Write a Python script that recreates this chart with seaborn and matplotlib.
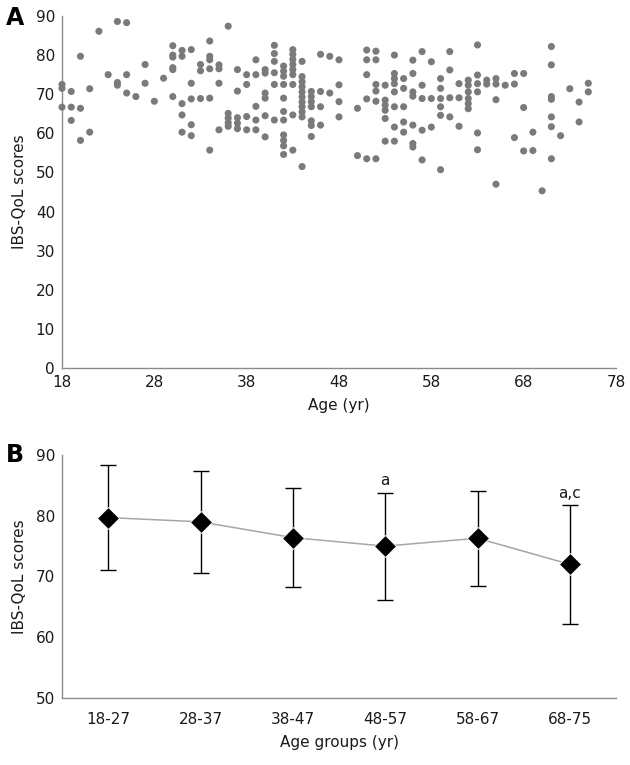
import numpy as np
import pandas as pd
import matplotlib
matplotlib.use("Agg")
import matplotlib.pyplot as plt
import seaborn as sns

# ---------------- Panel A: individual scores ----------------
ages = [18, 18, 18, 19, 19, 19, 20, 20, 20, 21, 21, 22, 23, 24, 24, 24, 25, 25, 25, 26,
        27, 27, 28, 29,
        30, 30, 30, 30, 30, 30,
        31, 31, 31, 31, 31,
        32, 32, 32, 32, 32,
        33, 33, 33,
        34, 34, 34, 34, 34, 34,
        35, 35, 35, 35,
        36, 36, 36, 36, 36,
        37, 37, 37, 37, 37,
        38, 38, 38, 38,
        39, 39, 39, 39, 39,
        40, 40, 40, 40, 40, 40,
        41, 41, 41, 41, 41, 41,
        42, 42, 42, 42, 42, 42, 42, 42, 42, 42, 42,
        43, 43, 43, 43, 43, 43, 43, 43, 43,
        44, 44, 44, 44, 44, 44, 44, 44, 44, 44, 44,
        45, 45, 45, 45, 45, 45, 45,
        46, 46, 46, 46,
        47, 47,
        48, 48, 48, 48,
        50, 50,
        51, 51, 51, 51, 51,
        52, 52, 52, 52, 52, 52,
        53, 53, 53, 53, 53, 53,
        54, 54, 54, 54, 54, 54, 54, 54,
        55, 55, 55, 55, 55,
        56, 56, 56, 56, 56, 56, 56,
        57, 57, 57, 57, 57,
        58, 58, 58,
        59, 59, 59, 59, 59, 59,
        60, 60, 60, 60,
        61, 61, 61,
        62, 62, 62, 62, 62, 62,
        63, 63, 63, 63, 63, 63,
        64, 64,
        65, 65, 65, 65,
        66,
        67, 67, 67,
        68, 68, 68,
        69, 69,
        70,
        71, 71, 71, 71, 71, 71, 71,
        72, 73, 74, 74, 75, 75]

scores = [72.5, 71.5, 66.7, 70.7, 66.7, 63.3, 79.7, 66.4, 58.2, 71.4, 60.3, 86.1, 75.0,
          88.6, 73.0, 72.3, 88.3, 75.0, 70.3, 69.4,
          77.6, 72.8, 68.2, 74.1,
          82.4, 80.0, 79.5, 76.8, 76.3, 69.4,
          81.2, 79.7, 67.6, 64.7, 60.3,
          81.4, 72.8, 68.8, 62.2, 59.4,
          77.6, 76.0, 68.9,
          83.6, 79.7, 78.8, 76.5, 69.0, 55.7,
          77.5, 76.5, 72.8, 60.9,
          87.4, 65.1, 63.9, 62.7, 61.8,
          76.3, 70.8, 64.0, 62.6, 61.2,
          75.0, 72.5, 64.3, 60.9,
          78.8, 75.0, 66.9, 63.4, 60.9,
          76.3, 75.4, 70.3, 69.0, 64.5, 59.1,
          82.5, 80.4, 78.4, 75.5, 72.5, 63.4,
          77.2, 75.9, 74.6, 72.5, 69.0, 65.6, 63.4, 59.6, 58.2, 56.8, 54.6,
          81.4, 80.2, 78.9, 77.6, 76.3, 75.0, 72.5, 64.7, 55.7,
          78.4, 74.5, 73.2, 71.9, 70.6, 69.3, 68.0, 66.8, 65.5, 64.2, 51.5,
          70.7, 69.4, 68.1, 66.8, 63.2, 62.0, 59.2,
          80.2, 70.7, 66.8, 62.1,
          79.7, 70.3,
          78.8, 72.4, 68.1, 64.2,
          66.4, 54.3,
          81.3, 78.8, 75.0, 68.8, 53.5,
          81.0, 78.8, 72.5, 70.8, 68.2, 53.5,
          72.3, 68.5, 67.2, 65.9, 63.8, 58.0,
          80.0, 75.3, 74.0, 72.7, 70.6, 66.8, 61.6, 58.0,
          74.0, 71.5, 66.8, 62.9, 60.3,
          78.7, 75.3, 70.6, 69.5, 62.1, 57.4, 56.5,
          80.9, 72.3, 68.9, 60.8, 53.2,
          78.3, 68.9, 61.6,
          74.0, 71.5, 68.9, 66.8, 64.6, 50.7,
          80.9, 76.2, 69.1, 64.2,
          72.7, 69.1, 61.8,
          73.6, 72.3, 70.6, 68.9, 67.6, 66.3,
          82.6, 74.9, 72.7, 70.6, 60.1, 55.8,
          73.6, 72.6,
          74.0, 72.6, 68.6, 47.0,
          72.3,
          75.3, 72.6, 58.9,
          75.3, 66.6, 55.5,
          60.3, 55.6,
          45.3,
          82.2, 77.5, 69.4, 68.7, 64.2, 61.7, 53.5,
          59.4, 71.4, 68.0, 62.9, 72.8, 70.6]

age_ticks = [18, 28, 38, 48, 58, 68, 78]
score_ticks_a = [0, 10, 20, 30, 40, 50, 60, 70, 80, 90]

# ---------------- Panel B: group means ± SD ----------------
groups = ["18-27", "28-37", "38-47", "48-57", "58-67", "68-75"]
group_means = [79.7, 79.0, 76.4, 75.0, 76.3, 72.0]
group_sds = [8.7, 8.4, 8.2, 8.8, 7.8, 9.8]
group_marks = ["", "", "", "a", "", "a,c"]
score_ticks_b = [50, 60, 70, 80, 90]

assert len(ages) == len(scores)

sns.set_style("white")
plt.rcParams["font.family"] = ["DejaVu Sans"]
plt.rcParams["axes.unicode_minus"] = False

W, H = 630, 765
fig = plt.figure(figsize=(W / 100, H / 100), dpi=100)

axis_gray = "#8a8a8a"
txt_col = "#1a1a1a"
fs_tick = 11
fs_label = 11


def style_axes(ax):
    for side in ["top", "right"]:
        ax.spines[side].set_visible(False)
    for side in ["left", "bottom"]:
        ax.spines[side].set_color(axis_gray)
        ax.spines[side].set_linewidth(1.0)
    ax.tick_params(axis="both", which="both", direction="in", color=axis_gray,
                   length=5, width=1.0, labelsize=fs_tick, labelcolor=txt_col, pad=5)
    ax.set_facecolor("white")


L, R = 62, 616

# ---- Panel A ----
axA = fig.add_axes([L / W, 1 - 368 / H, (R - L) / W, (368 - 16) / H])
dfA = pd.DataFrame({"Age": ages, "Score": scores})
sns.scatterplot(data=dfA, x="Age", y="Score", ax=axA, color="#7a7a7a",
                s=26, edgecolor="none", linewidth=0, legend=False, zorder=3,
                clip_on=False)
axA.set_xlim(18, 78)
axA.set_ylim(0, 90)
axA.set_xticks(age_ticks)
axA.set_yticks(score_ticks_a)
style_axes(axA)
axA.set_xlabel("Age (yr)", fontsize=fs_label, color=txt_col, labelpad=6)
axA.set_ylabel("IBS-QoL scores", fontsize=fs_label, color=txt_col, labelpad=6)
fig.text(6 / W, 1 - 18 / H, "A", fontsize=17, fontweight="bold", va="center", ha="left",
         color="black")

# ---- Panel B ----
axB = fig.add_axes([L / W, 1 - 698 / H, (R - L) / W, (698 - 455) / H])
dfB = pd.DataFrame({"pos": np.arange(len(groups)), "Group": groups,
                    "Mean": group_means, "SD": group_sds})
axB.errorbar(dfB["pos"], dfB["Mean"], yerr=dfB["SD"], fmt="none", ecolor="black",
             elinewidth=1.0, capsize=5.5, capthick=1.0, zorder=2)
sns.lineplot(data=dfB, x="pos", y="Mean", ax=axB, color="#a6a6a6", linewidth=1.1,
             zorder=3, legend=False)
sns.scatterplot(data=dfB, x="pos", y="Mean", ax=axB, marker="D", s=125, color="black",
                edgecolor="white", linewidth=0.6, zorder=4, legend=False)
for p, m, sd, lab in zip(dfB["pos"], group_means, group_sds, group_marks):
    if lab:
        axB.text(p, m + sd + 0.7, lab, ha="center", va="bottom", fontsize=fs_tick,
                 color=txt_col)
axB.set_xlim(-0.5, len(groups) - 0.5)
axB.set_ylim(50, 90)
axB.set_yticks(score_ticks_b)
axB.set_xticks(dfB["pos"])
axB.set_xticklabels(groups)
axB.set_xticks(np.arange(len(groups)) + 0.5, minor=True)
style_axes(axB)
axB.tick_params(axis="x", which="major", length=0, pad=10)
axB.tick_params(axis="x", which="minor", length=5)
axB.set_xlabel("Age groups (yr)", fontsize=fs_label, color=txt_col, labelpad=6)
axB.set_ylabel("IBS-QoL scores", fontsize=fs_label, color=txt_col, labelpad=6)
fig.text(6 / W, 1 - 455 / H, "B", fontsize=17, fontweight="bold", va="center", ha="left",
         color="black")

fig.savefig("out.png", dpi=100, facecolor="white")
